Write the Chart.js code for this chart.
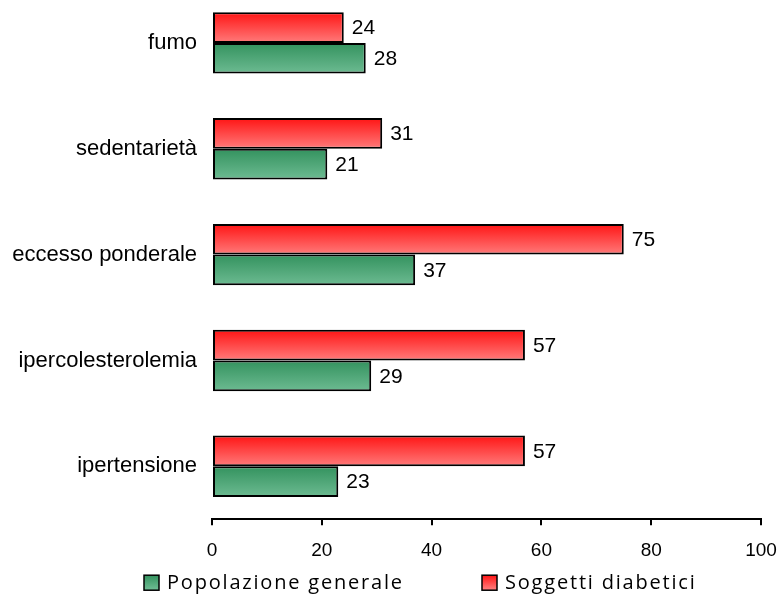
<!DOCTYPE html>
<html>
<head>
<meta charset="utf-8">
<script src="https://cdn.jsdelivr.net/npm/chart.js@4"></script>
<style>
  html, body { margin: 0; padding: 0; background: #fff; overflow: hidden; }
  #wrap { width: 781px; height: 618px; margin-top: -10px; }
</style>
</head>
<body>
<div id="wrap"><canvas id="grafico"></canvas></div>
<script>
// fattori di rischio
const categorie = ['fumo', 'sedentarietà', 'eccesso ponderale', 'ipercolesterolemia', 'ipertensione'];
const diabetici = [24, 31, 75, 57, 57];
const generale = [28, 21, 37, 29, 23];
const tickX = [0, 20, 40, 60, 80, 100];

const CAT_PCT = 0.58;
const ROSSO = ['#ff1414', '#ff7b7b'];
const VERDE = ['#33925e', '#6dbb92'];

// sfumatura verticale per ogni barra, calcolata dalla scala y
function sfumatura(ctx, colori) {
  const chart = ctx.chart;
  const y = chart.scales.y;
  if (!y || ctx.dataIndex === undefined) return colori[1];
  const centro = y.getPixelForValue(ctx.dataIndex);
  const barra = y.height / categorie.length * CAT_PCT / 2;
  const top = ctx.datasetIndex === 0 ? centro - barra : centro;
  if (!isFinite(top) || !isFinite(barra) || barra <= 0) return colori[1];
  const g = chart.ctx.createLinearGradient(0, top, 0, top + barra);
  g.addColorStop(0, colori[0]);
  g.addColorStop(1, colori[1]);
  return g;
}

// etichette dei valori a destra delle barre
const etichetteValori = {
  id: 'etichetteValori',
  afterDatasetsDraw(chart) {
    const c = chart.ctx;
    c.save();
    c.font = '21px "Liberation Sans", Arial, sans-serif';
    c.fillStyle = '#000';
    c.textAlign = 'left';
    c.textBaseline = 'middle';
    chart.data.datasets.forEach((ds, i) => {
      chart.getDatasetMeta(i).data.forEach((bar, j) => {
        c.fillText(ds.data[j], bar.x + 8, bar.y + 1);
      });
    });
    c.restore();
  }
};

// legenda sotto l'asse (verde prima, poi rosso)
const legenda = {
  id: 'legenda',
  afterDraw(chart) {
    const c = chart.ctx;
    const y = chart.chartArea.bottom + 63;
    const voci = [
      { ds: chart.data.datasets[1], colori: VERDE, x: 144 },
      { ds: chart.data.datasets[0], colori: ROSSO, x: 482 }
    ];
    c.save();
    c.font = '20px "Open Sans", sans-serif';
    c.letterSpacing = '1.8px';
    c.textBaseline = 'middle';
    c.textAlign = 'left';
    voci.forEach(v => {
      const g = c.createLinearGradient(0, y - 7, 0, y + 7);
      g.addColorStop(0, v.colori[0]);
      g.addColorStop(1, v.colori[1]);
      c.fillStyle = g;
      c.fillRect(v.x, y - 7, 15, 15);
      c.strokeStyle = '#000';
      c.lineWidth = 1.5;
      c.strokeRect(v.x, y - 7, 15, 15);
      c.fillStyle = '#000';
      c.fillText(v.ds.label, v.x + 23, y + 1);
    });
    c.restore();
  }
};

new Chart(document.getElementById('grafico'), {
  type: 'bar',
  data: {
    labels: categorie,
    datasets: [{
      label: 'Soggetti diabetici',
      data: diabetici,
      backgroundColor: ctx => sfumatura(ctx, ROSSO),
      borderColor: '#000',
      borderWidth: 2,
      borderSkipped: false
    }, {
      label: 'Popolazione generale',
      data: generale,
      backgroundColor: ctx => sfumatura(ctx, VERDE),
      borderColor: '#000',
      borderWidth: 2,
      borderSkipped: false
    }]
  },
  options: {
    indexAxis: 'y',
    responsive: true,
    maintainAspectRatio: false,
    animation: false,
    categoryPercentage: CAT_PCT,
    barPercentage: 1,
    layout: { padding: { top: 0, right: 20, bottom: 32, left: 0 } },
    scales: {
      x: {
        min: 0,
        max: 100,
        afterBuildTicks: s => { s.ticks = tickX.map(v => ({ value: v })); },
        afterFit: s => { s.paddingRight = 0; s.paddingLeft = 0; },
        grid: { display: true, drawOnChartArea: false, drawTicks: true, tickLength: 6, color: '#000', lineWidth: 2 },
        border: { display: true, color: '#000', width: 2 },
        ticks: { color: '#000', padding: 14, font: { family: '"Liberation Sans", Arial, sans-serif', size: 19 } }
      },
      y: {
        afterFit: s => { s.width = 212; s.paddingTop = 0; s.paddingBottom = 0; },
        grid: { display: false, drawTicks: false },
        border: { display: false },
        ticks: { color: '#000', padding: 15, font: { family: '"Liberation Sans", Arial, sans-serif', size: 22 } }
      }
    },
    plugins: {
      legend: { display: false },
      tooltip: { enabled: false }
    }
  },
  plugins: [etichetteValori, legenda]
});
</script>
</body>
</html>
